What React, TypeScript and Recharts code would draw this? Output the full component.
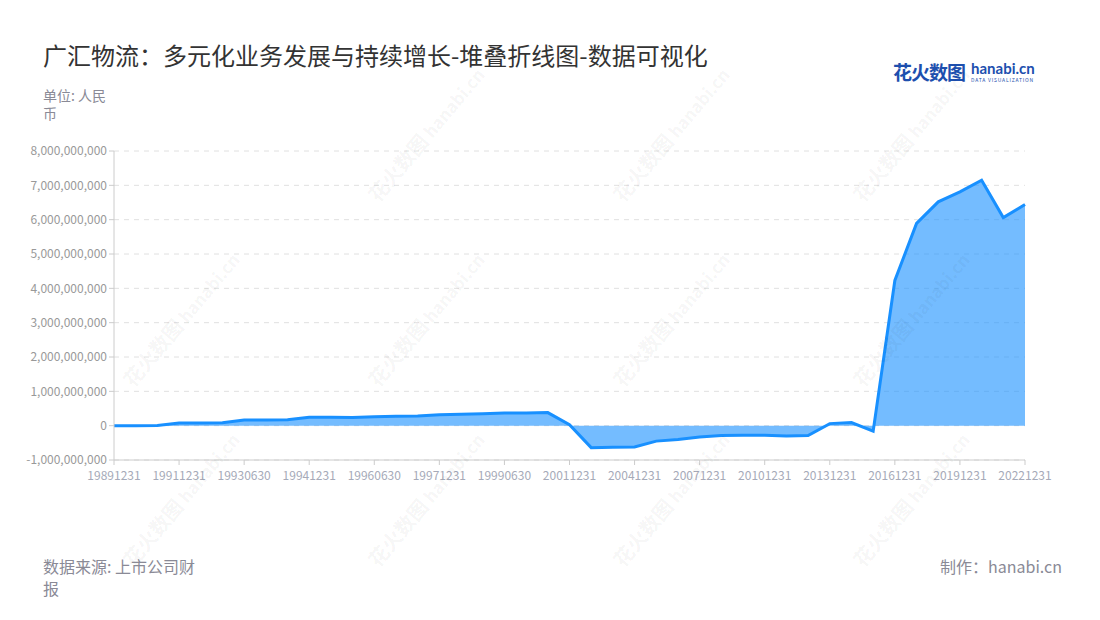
import React from "react";
import { Area, AreaChart, CartesianGrid, XAxis, YAxis } from "recharts";

const dates = [
  "19891231", "19901231", "19910630", "19911231", "19920630", "19921231",
  "19930630", "19931231", "19940630", "19941231", "19950630", "19951231",
  "19960630", "19961231", "19970630", "19971231", "19980630", "19981231",
  "19990630", "19991231", "20001231", "20011231", "20021231", "20031231",
  "20041231", "20051231", "20061231", "20071231", "20081231", "20091231",
  "20101231", "20111231", "20121231", "20131231", "20141231", "20151231",
  "20161231", "20171231", "20181231", "20191231", "20201231", "20211231",
  "20221231",
];

// 单位: 人民币
const values = [
  0, 0, 5e6, 80e6, 80e6, 82e6,
  166e6, 166e6, 170e6, 243e6, 245e6, 240e6,
  262e6, 272e6, 285e6, 320e6, 330e6, 350e6,
  368e6, 372e6, 380e6, 30e6, -640e6, -630e6,
  -620e6, -450e6, -400e6, -330e6, -290e6, -280e6,
  -280e6, -300e6, -290e6, 60e6, 90e6, -160e6,
  4230e6, 5890e6, 6520e6, 6810e6, 7150e6, 6060e6,
  6440e6,
];

const yTicks = [-1e9, 0, 1e9, 2e9, 3e9, 4e9, 5e9, 6e9, 7e9, 8e9];

const data = dates.map((d, i) => ({ date: d, value: values[i] }));

const FONT = "'Noto Sans CJK SC', 'Noto Sans', sans-serif";
const BLUE = "#1890ff";
const AXIS = "#cccccc";

const wmSpots = [
  [420, 140], [665, 140], [905, 140],
  [175, 325], [420, 325], [665, 325], [905, 325],
  [175, 505], [420, 505], [665, 505], [905, 505],
];

function Watermark({ x, y }: { x: number; y: number }) {
  return (
    <div
      style={{
        position: "absolute",
        left: x - 75,
        top: y - 14,
        width: 150,
        transform: "rotate(-50deg)",
        color: "rgba(0,0,0,0.05)",
        fontFamily: FONT,
        whiteSpace: "nowrap",
        pointerEvents: "none",
      }}
    >
      <span style={{ fontSize: 20, fontWeight: 700 }}>花火数图</span>
      <span style={{ fontSize: 17, fontWeight: 700, marginLeft: 4 }}>hanabi.cn</span>
    </div>
  );
}

export default function App() {
  return (
    <div
      style={{
        position: "absolute",
        left: 0,
        top: 0,
        width: 1100,
        height: 620,
        background: "#fff",
        fontFamily: FONT,
        overflow: "hidden",
      }}
    >
      <div style={{ position: "absolute", left: 43, top: 37, fontSize: 24, color: "#333" }}>
        广汇物流：多元化业务发展与持续增长-堆叠折线图-数据可视化
      </div>
      <div style={{ position: "absolute", left: 43, top: 86, fontSize: 14, lineHeight: "18px", color: "#8a8a96" }}>
        单位: 人民
        <br />币
      </div>

      <div style={{ position: "absolute", left: 893, top: 58, display: "flex", alignItems: "center" }}>
        <span style={{ fontSize: 19, fontWeight: 700, color: "#1d4fae", letterSpacing: -1 }}>花火数图</span>
        <div style={{ marginLeft: 6, lineHeight: 1 }}>
          <div style={{ fontSize: 15, fontWeight: 700, color: "#1d4fae", fontFamily: "Lato, sans-serif" }}>hanabi.cn</div>
          <div style={{ fontSize: 5, color: "#1d4fae", letterSpacing: 0.8, marginTop: 1 }}>DATA VISUALIZATION</div>
        </div>
      </div>

      <div style={{ position: "absolute", left: 0, top: 0 }}>
        <AreaChart
          width={1100}
          height={620}
          data={data}
          margin={{ top: 151, right: 75, bottom: 130, left: 0 }}
        >
          <CartesianGrid vertical={false} stroke="#e0e0e0" strokeDasharray="5 5" />
          <XAxis
            dataKey="date"
            interval={2}
            height={30}
            stroke={AXIS}
            tickLine={{ stroke: AXIS }}
            tickSize={5}
            tickMargin={6}
            tick={{ fill: "#a6aab8", fontSize: 12, fontFamily: FONT }}
          />
          <YAxis
            width={114}
            domain={[-1e9, 8e9]}
            ticks={yTicks}
            stroke={AXIS}
            tickLine={{ stroke: AXIS }}
            tickSize={5}
            tick={{ fill: "#999", fontSize: 12, fontFamily: FONT }}
            tickFormatter={(v: number) => v.toLocaleString("en-US")}
          />
          <Area
            type="linear"
            dataKey="value"
            baseValue={0}
            stroke={BLUE}
            strokeWidth={3}
            fill={BLUE}
            fillOpacity={0.6}
            dot={false}
            activeDot={false}
            isAnimationActive={false}
          />
        </AreaChart>
      </div>

      {wmSpots.map(([x, y], i) => (
        <Watermark key={i} x={x} y={y} />
      ))}

      <div style={{ position: "absolute", left: 43, top: 555, fontSize: 16, lineHeight: "22px", color: "#8a8a96" }}>
        数据来源: 上市公司财
        <br />报
      </div>
      <div style={{ position: "absolute", right: 38, top: 555, fontSize: 16, lineHeight: "22px", color: "#8a8a96" }}>
        制作：hanabi.cn
      </div>
    </div>
  );
}
